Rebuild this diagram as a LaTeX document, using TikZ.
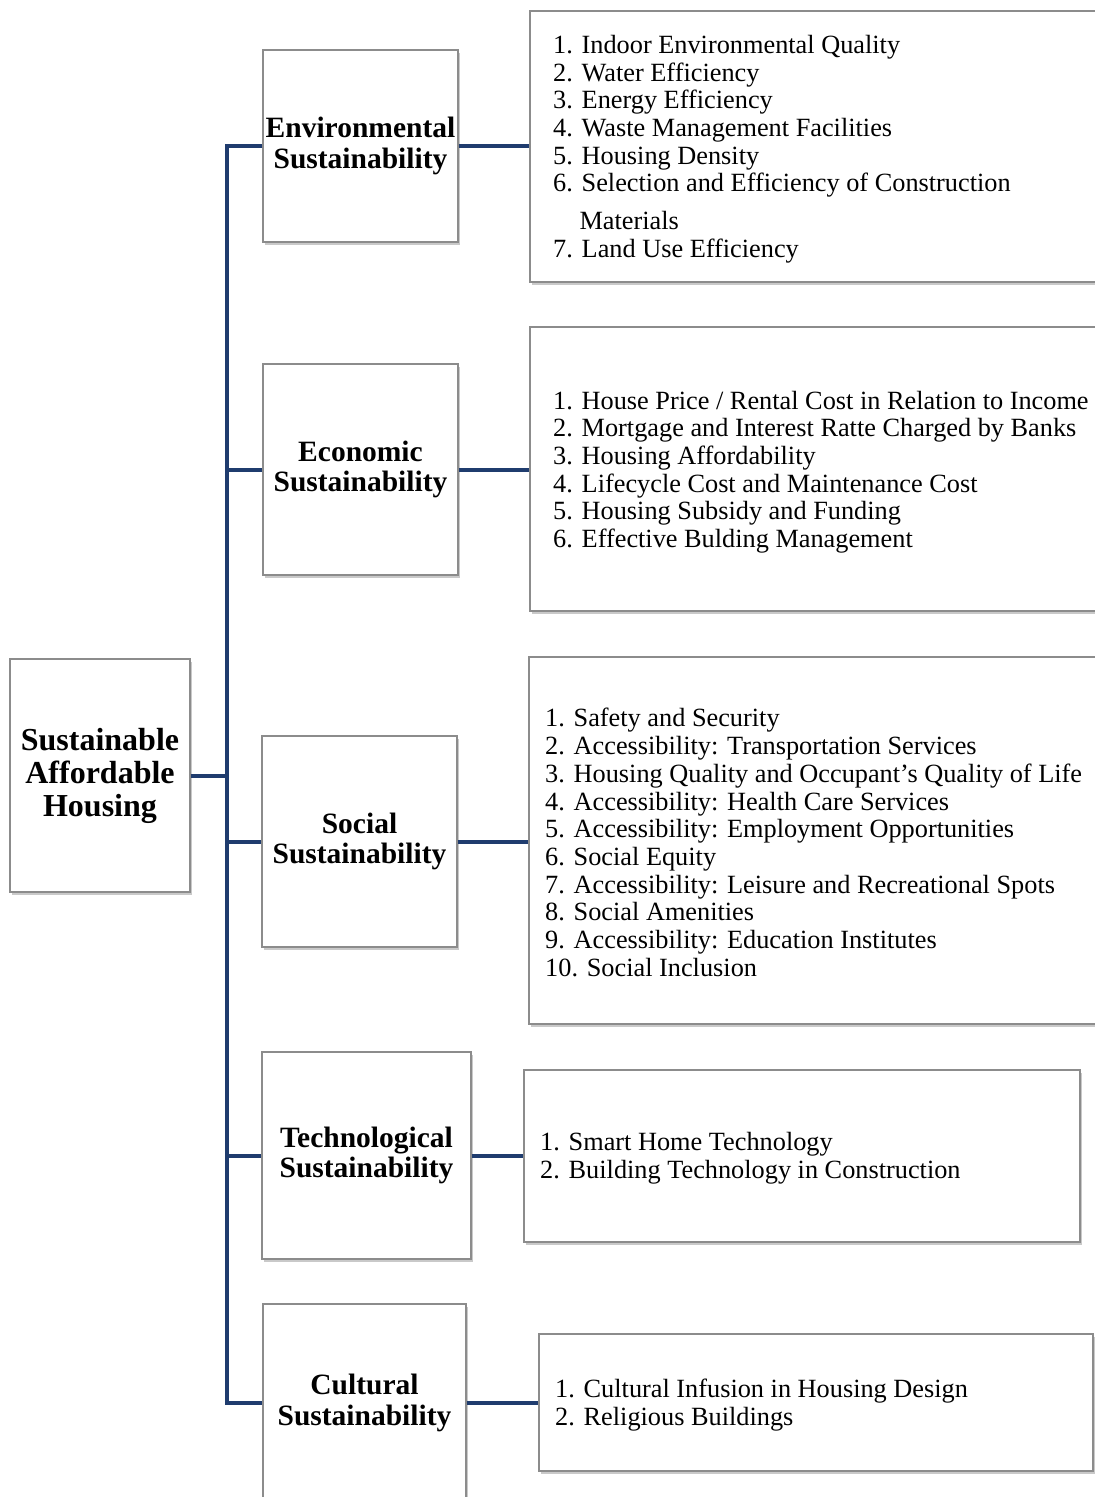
\documentclass[tikz,border=0pt]{standalone}
\usepackage{fontspec}
\setmainfont{Liberation Serif}
\usetikzlibrary{shadows}
\definecolor{linkblue}{HTML}{1F3C6E}
\definecolor{boxgray}{HTML}{8C8C8C}

\tikzset{
  box/.style={draw=boxgray, line width=1.2pt, fill=white, rectangle, inner sep=0pt,
    drop shadow={shadow xshift=2pt, shadow yshift=-3pt, opacity=0.3, fill=black!70}},
  head/.style={box, font=\fontsize{29.5}{30.5}\selectfont\bfseries, align=center},
  rootbox/.style={box, font=\fontsize{32}{33}\selectfont\bfseries, align=center},
  itemlist/.style={font=\fontsize{26.3}{27.7}\selectfont, align=left, anchor=west, inner sep=0pt},
  link/.style={draw=linkblue, line width=4pt},
}

\begin{document}
\begin{tikzpicture}[x=1pt, y=-1pt]
\useasboundingbox (0,0) rectangle (1095,1497);
\clip (0,0) rectangle (1095,1497);

% root
\node[rootbox, minimum width=180pt, minimum height=233pt] (root) at (100,775.5)
  {Sustainable\\Affordable\\Housing};

% pillar boxes
\node[head, minimum width=195pt, minimum height=192pt] (env) at (360.5,146)
  {Environmental\\Sustainability};
\node[head, minimum width=195pt, minimum height=211pt] (econ) at (360.5,469.5)
  {Economic\\Sustainability};
\node[head, minimum width=195pt, minimum height=211pt] (soc) at (359.5,841.5)
  {Social\\Sustainability};
\node[head, minimum width=209pt, minimum height=207pt] (tech) at (366.5,1155.5)
  {Technological\\Sustainability};
\node[head, minimum width=203pt, minimum height=198pt] (cult) at (364.5,1403)
  {Cultural\\Sustainability};

% indicator boxes
\node[box, minimum width=570pt, minimum height=271pt] (envl) at (815,146.5) {};
\node[box, minimum width=570pt, minimum height=284pt] (econl) at (815,469) {};
\node[box, minimum width=571pt, minimum height=367pt] (socl) at (814.5,840.5) {};
\node[box, minimum width=556pt, minimum height=172pt] (techl) at (802,1156) {};
\node[box, minimum width=554pt, minimum height=137pt] (cultl) at (816,1402.5) {};

% indicator lists
\node[itemlist] (envt) at (553,149) {1. Indoor Environmental Quality\\
2. Water Efficiency\\
3. Energy Efficiency\\
4. Waste Management Facilities\\
5. Housing Density\\
6. Selection and Efficiency of Construction\\[10pt]
\phantom{6.}\ Materials\\
7. Land Use Efficiency};

\node[itemlist] (econt) at (553,472) {1. House Price / Rental Cost in Relation to Income\\
2. Mortgage and Interest Ratte Charged by Banks\\
3. Housing Affordability\\
4. Lifecycle Cost and Maintenance Cost\\
5. Housing Subsidy and Funding\\
6. Effective Bulding Management};

\node[itemlist] (soct) at (545,842.5) {1. Safety and Security\\
2. Accessibility: Transportation Services\\
3. Housing Quality and Occupant’s Quality of Life\\
4. Accessibility: Health Care Services\\
5. Accessibility: Employment Opportunities\\
6. Social Equity\\
7. Accessibility: Leisure and Recreational Spots\\
8. Social Amenities\\
9. Accessibility: Education Institutes\\
10. Social Inclusion};

\node[itemlist] (techt) at (540,1158) {1. Smart Home Technology\\
2. Building Technology in Construction};

\node[itemlist] (cultt) at (555,1405) {1. Cultural Infusion in Housing Design\\
2. Religious Buildings};

% trunk and branches
\coordinate (tx) at (227,0);
\draw[link] (env.west) -| (tx |- cult.west) -- (cult.west);
\draw[link] (tx |- econ.west) -- (econ.west);
\draw[link] (tx |- soc.west) -- (soc.west);
\draw[link] (tx |- tech.west) -- (tech.west);
\draw[link] (root.east) -- (tx |- root.east);

% pillar to indicator links
\draw[link] (env.east) -- (env.east -| envl.west);
\draw[link] (econ.east) -- (econ.east -| econl.west);
\draw[link] (soc.east) -- (soc.east -| socl.west);
\draw[link] (tech.east) -- (tech.east -| techl.west);
\draw[link] (cult.east) -- (cult.east -| cultl.west);
\end{tikzpicture}
\end{document}
